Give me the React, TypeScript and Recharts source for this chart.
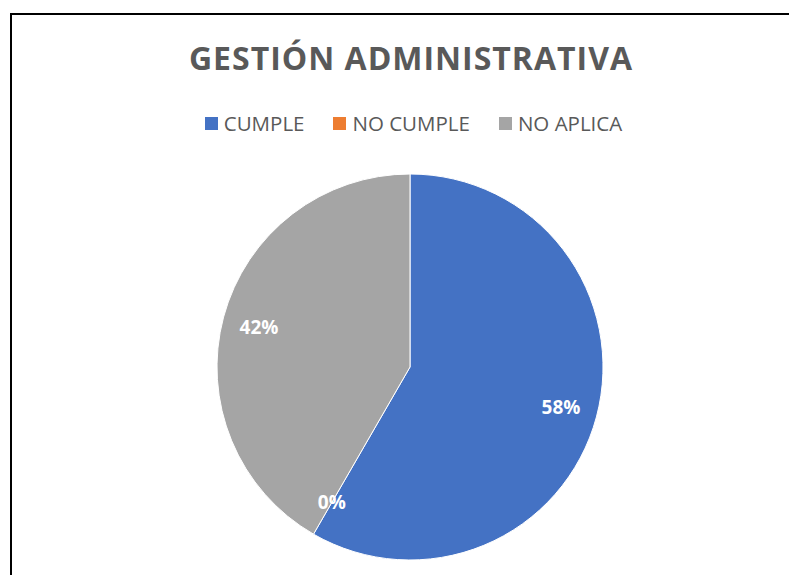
import React from 'react';
import { PieChart, Pie, Cell, Legend } from 'recharts';

const categories = ['CUMPLE', 'NO CUMPLE', 'NO APLICA'];
const values = [7, 0, 5];
const colors = ['#4472C4', '#ED7D31', '#A5A5A5'];
const title = 'GESTIÓN ADMINISTRATIVA';

const data = categories.map((name, i) => ({ name, value: values[i] }));

const RADIAN = Math.PI / 180;
const renderLabel = (props: any) => {
  const { cx, cy, midAngle, outerRadius, percent } = props;
  const r = outerRadius * 0.81;
  const x = cx + r * Math.cos(-midAngle * RADIAN);
  const y = cy + r * Math.sin(-midAngle * RADIAN);
  return (
    <text x={x} y={y} fill="#ffffff" textAnchor="middle" dominantBaseline="central"
      style={{ fontFamily: '"Open Sans", sans-serif', fontWeight: 700, fontSize: 19 }}>
      {`${Math.round(percent * 100)}%`}
    </text>
  );
};

const renderLegend = () => (
  <div style={{ position: 'absolute', left: 0, top: 0, width: 797, display: 'flex', justifyContent: 'center', fontFamily: '"Open Sans", sans-serif', fontSize: 20.5, color: '#595959', lineHeight: '28px' }}>
    {categories.map((c, i) => (
      <div key={c} style={{ display: 'flex', alignItems: 'center', marginRight: i < categories.length - 1 ? 29 : 0 }}>
        <span style={{ display: 'inline-block', width: 13, height: 13, background: colors[i], marginRight: 6 }} />
        <span>{c}</span>
      </div>
    ))}
  </div>
);

export default function App() {
  return (
    <div style={{ position: 'relative', width: 797, height: 583, margin: -8, overflow: 'hidden', background: '#fff' }}>
      <div style={{ position: 'absolute', left: 0, top: 35, width: 822, textAlign: 'center', fontFamily: '"Open Sans", sans-serif', fontWeight: 700, fontSize: 32, letterSpacing: 1, color: '#595959', lineHeight: '46px' }}>
        {title}
      </div>
      <div style={{ position: 'absolute', left: 0, top: 0 }}>
        <PieChart width={797} height={583} margin={{ top: 0, right: 0, bottom: 0, left: 0 }}>
          <Legend verticalAlign="top" content={renderLegend} wrapperStyle={{ top: 109, left: 15, width: 797, height: 0 }} />
          <Pie data={data} dataKey="value" nameKey="name" cx={410} cy={367} outerRadius={193}
            startAngle={90} endAngle={-270} stroke="#ffffff" strokeWidth={1}
            label={renderLabel} labelLine={false} isAnimationActive={false}>
            {data.map((d, i) => <Cell key={d.name} fill={colors[i]} />)}
          </Pie>
        </PieChart>
      </div>
      <div style={{ position: 'absolute', left: 10, top: 13, width: 787, height: 570, borderLeft: '2px solid #000', borderTop: '2px solid #000', boxSizing: 'border-box', pointerEvents: 'none' }} />
    </div>
  );
}
